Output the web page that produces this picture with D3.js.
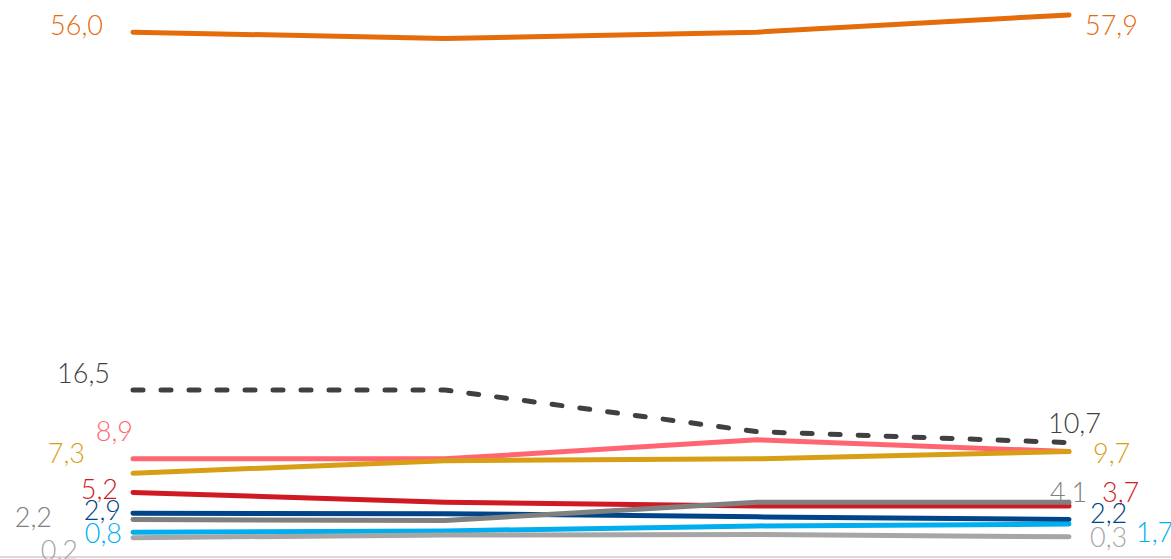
<!DOCTYPE html>
<html>
<head>
<meta charset="utf-8">
<script src="https://cdn.jsdelivr.net/npm/d3@7"></script>
<style>
  html, body { margin: 0; padding: 0; background: #fff; overflow: hidden; }
  svg text { font-family: Lato, "Open Sans", sans-serif; font-weight: 300; font-size: 27px; }
</style>
</head>
<body>
<svg id="chart" width="1171" height="559"></svg>
<script>
// periods (no axis labels shown in the picture)
var categories = ['P1', 'P2', 'P3', 'P4'];

var seriesNames = ['orange', 'total', 'pink', 'gold', 'red', 'navy', 'grey', 'cyan', 'lightgrey'];
var orangeValues = [56.0, 55.3, 56.0, 57.9];
var totalValues = [16.5, 16.5, 11.9, 10.7];
var pinkValues = [8.9, 8.9, 11.0, 9.7];
var goldValues = [7.3, 8.7, 8.9, 9.7];
var redValues = [5.2, 4.1, 3.7, 3.7];
var navyValues = [2.9, 2.85, 2.5, 2.2];
var greyValues = [2.2, 2.1, 4.1, 4.1];
var cyanValues = [0.8, 0.95, 1.5, 1.7];
var lightgreyValues = [0.2, 0.5, 0.55, 0.3];

var seriesValues = {
    orange: orangeValues, total: totalValues, pink: pinkValues, gold: goldValues, red: redValues,
    navy: navyValues, grey: greyValues, cyan: cyanValues, lightgrey: lightgreyValues
};

// colours, dash and label offsets (first / last point)
var style = {
    orange:    {color: '#e46c0a', first: [-30, 3],  last: [16, 20]},
    total:     {color: '#404040', dash: '10,18', first: [-23, -7], last: [-21, -10]},
    pink:      {color: '#ff6672', first: [0, -18],  last: null},
    gold:      {color: '#d89f16', first: [-48, -10], last: [24, 11]},
    red:       {color: '#cf1a23', first: [-15, 7],  last: [33, -4]},
    navy:      {color: '#004489', first: [-12, 7],  last: [21, 3]},
    grey:      {color: '#808080', first: [-81, 7],  last: [-19, 0]},
    cyan:      {color: '#00aeef', first: [-11, 11], last: [67, 18]},
    lightgrey: {color: '#a6a6a6', first: [-55, 22], last: [21, 10]}
};

var svg = d3.select('#chart'),
    W = +svg.attr('width'),
    H = +svg.attr('height');

var x = d3.scalePoint().domain(categories).range([133, 1069]);
var y = d3.scaleLinear().domain([0, 60]).range([539.5, -4.1]);

// bottom axis line
svg.append('line')
    .attr('x1', 0).attr('x2', W)
    .attr('y1', 557).attr('y2', 557)
    .attr('stroke', '#d9d9d9')
    .attr('stroke-width', 2);

var line = d3.line()
        .x(function (d, i) { return x(categories[i]); })
        .y(function (d) { return y(d); });

var fmt = function (v) { return d3.format('.1f')(v).replace('.', ','); };

seriesNames.forEach(function (name) {
    var vals = seriesValues[name], s = style[name];
    svg.append('path')
        .datum(vals)
        .attr('fill', 'none')
        .attr('stroke', s.color)
        .attr('stroke-width', 5)
        .attr('stroke-linecap', 'round')
        .attr('stroke-linejoin', 'round')
        .attr('stroke-dasharray', s.dash || null)
        .attr('d', line);
});

// value labels
seriesNames.forEach(function (name) {
    var vals = seriesValues[name], s = style[name];
    var n = vals.length - 1;
    svg.append('text')
        .attr('x', x(categories[0]) + s.first[0])
        .attr('y', y(vals[0]) + s.first[1])
        .attr('text-anchor', 'end')
        .attr('fill', s.color)
        .text(fmt(vals[0]));
    if (s.last) {
        svg.append('text')
            .attr('x', x(categories[n]) + s.last[0])
            .attr('y', y(vals[n]) + s.last[1])
            .attr('text-anchor', 'start')
            .attr('fill', s.color)
            .text(fmt(vals[n]));
    }
});
</script>
</body>
</html>
